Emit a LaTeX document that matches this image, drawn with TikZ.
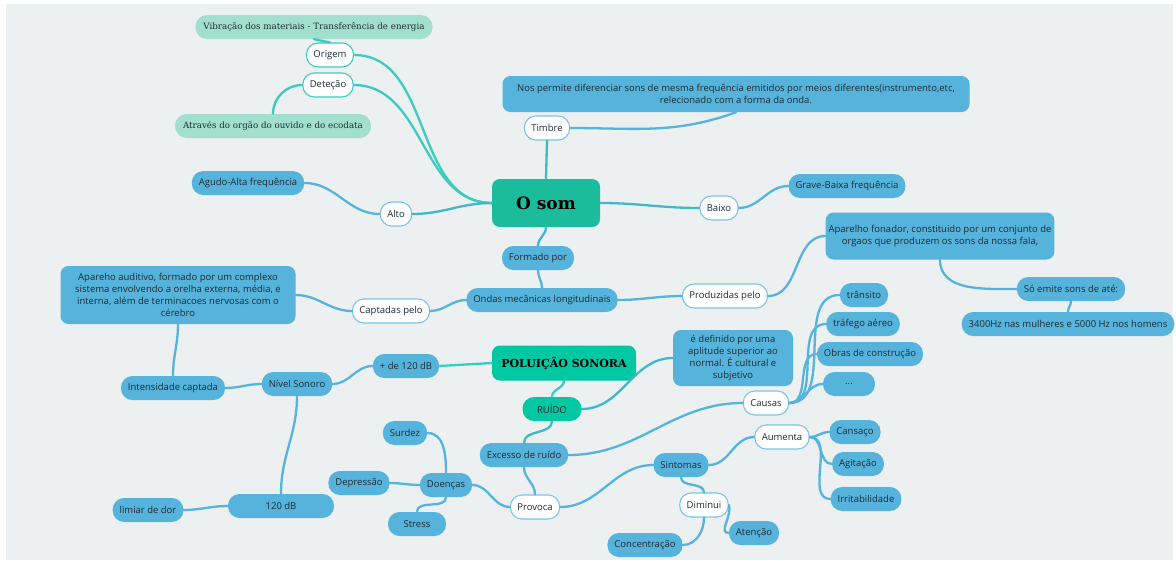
\documentclass[tikz,border=0pt]{standalone}
\usepackage{fontspec}
\setmainfont{Open Sans}
\newfontfamily\slab{DejaVu Serif}
\definecolor{paper}{HTML}{ECF0F1}
\definecolor{ink}{HTML}{1E2B33}
\definecolor{sky}{HTML}{56B3DB}
\definecolor{skyline}{HTML}{7DC4E4}
\definecolor{jade}{HTML}{1ABC9C}
\definecolor{jadebright}{HTML}{00C8A2}
\definecolor{mint}{HTML}{A2DFCF}
\definecolor{tealline}{HTML}{3CCBBE}
\definecolor{mixline}{HTML}{3FB8C9}
\tikzset{x=1pt, y=-1pt,
  every node/.append style={font=\fontsize{9.5}{12}\selectfont, text=ink},
  leaf/.style={fill=sky, rounded corners=11.5pt, minimum height=24pt, inner xsep=7pt},
  note/.style={fill=sky, rounded corners=8pt, align=center, inner sep=3pt},
  sub/.style={fill=white, draw=skyline, line width=1.1pt, rounded corners=11.5pt, minimum height=24pt, inner xsep=7pt},
  tealsub/.style={sub, draw=tealline},
  mintleaf/.style={fill=mint, rounded corners=11.5pt, minimum height=24pt, inner xsep=8pt, font=\slab\fontsize{8.7}{10}\selectfont},
  root/.style={fill=jade, rounded corners=8pt, font=\slab\bfseries\fontsize{17}{20}\selectfont, text=black},
  link/.style={line width=2.3pt, draw=sky, line cap=round},
  tlink/.style={link, draw=tealline},
  mlink/.style={link, draw=mixline}}

\begin{document}
\begin{tikzpicture}
  \useasboundingbox (0,0) rectangle (1176,560);
  \fill[white] (0,0) rectangle (1176,560);
  \fill[paper] (6,4) rectangle (1173,560);

  % roots
  \node[root, minimum width=108pt, minimum height=48pt] (osom) at (546,203) {O som};
  \node[root, fill=jadebright, minimum width=144pt, minimum height=35pt,
        font=\slab\bfseries\fontsize{11}{13}\selectfont] (poluicao) at (564,363) {POLUIÇÃO SONORA};
  \node[leaf, fill=jadebright, minimum width=59pt] (ruido) at (552,409) {RUÍDO};

  % O som
  \node[mintleaf] (vibracao) at (314,27) {Vibração dos materiais - Transferência de energia};
  \node[tealsub] (origem) at (330,55) {Origem};
  \node[tealsub] (detecao) at (328,85) {Deteção};
  \node[mintleaf] (atraves) at (273,126) {Através do orgão do ouvido e do ecodata};
  \node[note, minimum width=467pt, minimum height=36pt] (nospermite) at (736,94)
    {Nos permite diferenciar sons de mesma frequência emitidos por meios diferentes(instrumento,etc,\\relecionado com a forma da onda.};
  \node[sub] (timbre) at (547,128) {Timbre};
  \node[sub] (baixo) at (719,208) {Baixo};
  \node[leaf] (grave) at (847,186) {Grave-Baixa frequência};
  \node[sub] (alto) at (396,214) {Alto};
  \node[leaf] (agudo) at (248,183) {Agudo-Alta frequência};
  \node[leaf] (formado) at (538,258) {Formado por};
  \node[leaf] (ondas) at (542,300) {Ondas mecânicas longitudinais};
  \node[sub] (captadas) at (391,311) {Captadas pelo};
  \node[note, minimum width=235pt, minimum height=58pt] (auditivo) at (178,295)
    {Apareho auditivo, formado por um complexo\\sistema envolvendo a orelha externa, média, e\\interna, além de terminacoes nervosas com o\\cérebro};
  \node[sub] (produzidas) at (725,296) {Produzidas pelo};
  \node[note, minimum width=215pt, minimum height=47pt] (fonador) at (940,236)
    {Aparelho fonador, constituido por um conjunto de\\orgaos que produzem os sons da nossa fala,};
  \node[leaf] (soemite) at (1071,289) {Só emite sons de até:};
  \node[leaf] (hertz) at (1068,324) {3400Hz nas mulheres e 5000 Hz nos homens};

  % nivel sonoro
  \node[leaf] (intensidade) at (173,388) {Intensidade captada};
  \node[leaf] (nivel) at (297,384) {Nível Sonoro};
  \node[leaf, minimum width=63pt] (mais120) at (406,366) {+ de 120 dB};
  \node[leaf, minimum width=106pt] (db120) at (281,506) {120 dB};
  \node[leaf] (limiar) at (148,510) {limiar de dor};

  % ruido
  \node[note, minimum width=120pt, minimum height=56pt] (definido) at (733,358)
    {é definido por uma\\aplitude superior ao\\normal. É cultural e\\subjetivo};
  \node[leaf] (excesso) at (524,455) {Excesso de ruído};
  \node[sub] (causas) at (766,403) {Causas};
  \node[leaf] (transito) at (864,295) {trânsito};
  \node[leaf] (trafego) at (863,324) {tráfego aéreo};
  \node[leaf] (obras) at (870,354) {Obras de construção};
  \node[leaf, minimum width=52pt] (etc) at (849,384) {...};
  \node[sub] (provoca) at (535,507) {Provoca};
  \node[leaf] (doencas) at (446,485) {Doenças};
  \node[leaf] (surdez) at (405,433) {Surdez};
  \node[leaf] (depressao) at (359,483) {Depressão};
  \node[leaf, minimum width=58pt] (stress) at (417,524) {Stress};
  \node[leaf] (sintomas) at (681,465) {Sintomas};
  \node[sub] (aumenta) at (782,437) {Aumenta};
  \node[leaf] (cansaco) at (855,432) {Cansaço};
  \node[leaf] (agitacao) at (858,464) {Agitação};
  \node[leaf] (irrita) at (866,499) {Irritabilidade};
  \node[sub] (diminui) at (704,505) {Diminui};
  \node[leaf] (atencao) at (754,533) {Atenção};
  \node[leaf] (concentra) at (645,545) {Concentração};

  % connectors
  \draw[tlink] (osom.west) to[out=180,in=0] (origem.east);
  \draw[tlink] (osom.west) to[out=180,in=0] (detecao.east);
  \draw[tlink] (origem.north) -- (vibracao.south);
  \draw[tlink] (detecao.west) to[out=180,in=90] (atraves.north);
  \draw[mlink] (osom.west) to[out=180,in=0] (alto.east);
  \draw[mlink] (osom.north) -- (timbre.south);
  \draw[mlink] (osom.east) to[out=0,in=180] (baixo.west);
  \draw[mlink] (osom.south) to[out=-90,in=90] (formado.north);
  \draw[tlink] (poluicao.south) to[out=-90,in=90] (ruido.north);
  \draw[tlink] (mais120.east) -- (poluicao.west);
  \draw[mlink] (ruido.east) to[out=0,in=180] (definido.west);
  \draw[mlink] (ruido.south) to[out=-90,in=90] (excesso.north);
  \foreach \a/\b/\o/\i in {
      timbre.east/nospermite.south/0/-160, baixo.east/grave.west/0/180,
      alto.west/agudo.east/180/0, formado.south/ondas.north/-90/90,
      ondas.west/captadas.east/180/0, ondas.east/produzidas.west/0/180,
      captadas.west/auditivo.east/180/0, auditivo.south/intensidade.north/-90/90,
      intensidade.east/nivel.west/0/180, nivel.east/mais120.west/0/180,
      nivel.south/db120.north/-90/90, db120.west/limiar.east/180/0,
      produzidas.east/fonador.west/0/180, fonador.south/soemite.west/-90/180,
      soemite.south/hertz.north/-90/90,
      excesso.east/causas.west/0/180, excesso.south/provoca.north/-90/90,
      causas.east/transito.west/0/180, causas.east/trafego.west/0/180,
      causas.east/obras.west/0/180, causas.east/etc.west/0/180,
      provoca.west/doencas.east/180/0, provoca.east/sintomas.west/0/180,
      doencas.north/surdez.east/90/0, doencas.west/depressao.east/180/0,
      doencas.south/stress.north/-90/90,
      sintomas.east/aumenta.west/0/180, sintomas.south/diminui.north/-90/90,
      aumenta.east/cansaco.west/0/180, aumenta.east/agitacao.west/0/180,
      aumenta.east/irrita.west/0/180,
      diminui.east/atencao.west/-70/180, diminui.south/concentra.east/-90/0}
    \draw[link] (\a) to[out=\o,in=\i] (\b);
\end{tikzpicture}
\end{document}
